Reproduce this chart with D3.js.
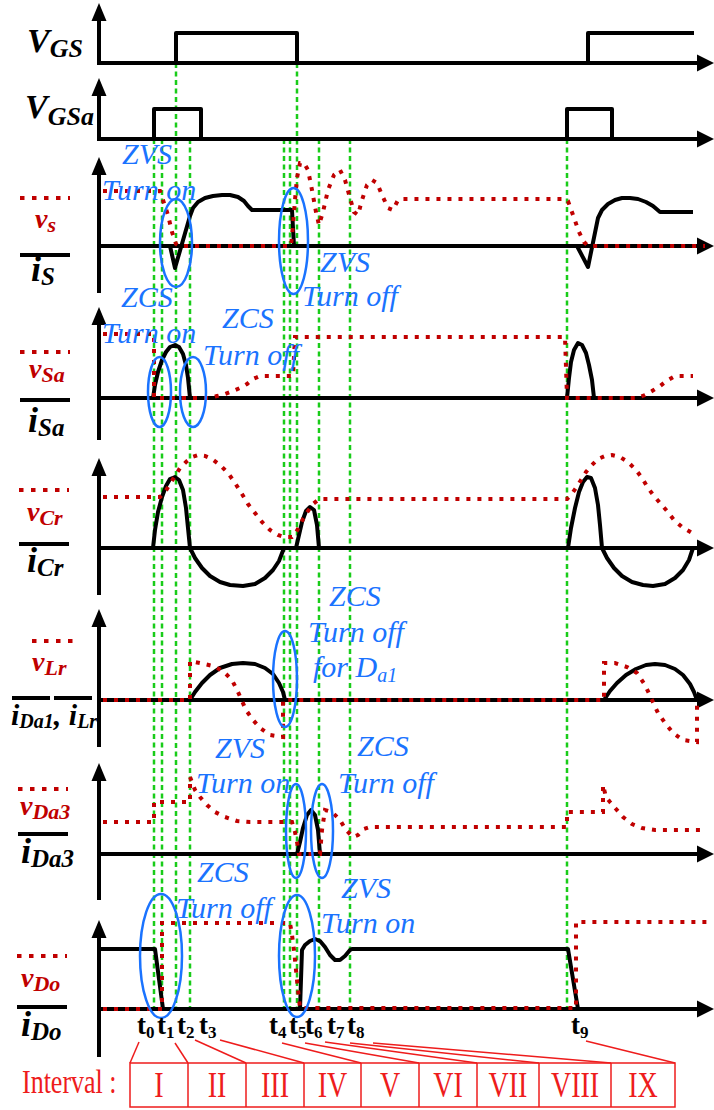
<!DOCTYPE html>
<html><head><meta charset="utf-8">
<script src="https://cdn.jsdelivr.net/npm/d3@7"></script>
<style>body{margin:0;background:#fff}svg{display:block}</style>
</head><body>
<svg id="c" width="714" height="1110"></svg>
<script>
// ---------- DATA (time units, value = height above each panel's zero line) ----------
const tInstants = [55, 63, 77, 91, 185, 191, 198, 220, 251, 468];
const tNames = ["0","1","2","3","4","5","6","7","8","9"];
const intervalNames = ["I","II","III","IV","V","VI","VII","VIII","IX"];

const vGS  = [[0,0],[77,0],[77,30],[198,30],[198,0],[489,0],[489,30],[595,30]];
const vGSa = [[0,0],[55,0],[55,30],[102,30],[102,0],[468,0],[468,30],[513,30],[513,0],[600,0]];

const iS = [[0,0],[71,0],[76,-22],[91,30],[94,38],[99,44],[106,48],[114,50],[123,51],[131,51],[139,49],[145,45],[149,40],[153,36],[193,36],[195,0],
  [478,0],[489,-21],[499,28],[503,36],[509,42],[516,46],[523,48],[531,48],[539,47],[547,44],[554,40],[561,34],[594,34]];
const vS = [[4,55],[61,55],[64,46],[69,31],[73,14],[77,2],[80,0],[192,0],[194,21],[196,46],[198,68],[201,83],[205,83],[209,76],[213,56],[217,34],[220,21],
  [224,34],[229,56],[235,71],[241,76],[246,66],[251,48],[255,34],[259,31],[263,46],[268,61],[273,66],[278,63],[283,51],[289,38],[294,36],[299,46],[303,47],
  [466,47],[469,45],[474,31],[480,14],[485,4],[489,0],[606,0]];

const iSa = [[0,0],[54,0],[56,13],[59,26],[63,38],[67,46],[71,51],[76,53],[80,51],[84,44],[87,33],[89,20],[91,0],
  [468,0],[470,20],[472,36],[475,48],[479,55],[483,53],[487,45],[490,33],[493,18],[495,0],[600,0]];
const vSa = [[4,64],[55,64],[55,0],[111,0],[118,2],[126,4],[134,7],[141,10],[148,14],[154,19],[161,22],[194,22],[196,61],
  [466,61],[468,0],[538,0],[546,3],[553,7],[561,12],[569,18],[576,22],[594,22]];

const iCr = [[0,0],[54,0],[56,18],[59,36],[63,51],[67,62],[71,69],[76,71],[80,68],[84,58],[87,40],[89,20],[91,0],[96,-10],[103,-20],[111,-28],[121,-34],
  [131,-37],[144,-38],[156,-36],[166,-30],[174,-22],[180,-13],[185,0],[197,0],[200,13],[203,26],[207,37],[211,41],[215,38],[218,23],[220,0],
  [469,0],[472,20],[476,40],[480,56],[484,66],[488,71],[492,70],[496,60],[499,43],[501,23],[503,0],[508,-10],[515,-20],[523,-28],[533,-34],[544,-37],
  [554,-38],[566,-36],[576,-30],[584,-22],[590,-12],[594,0],[606,0]];
const vCr = [[4,51],[61,51],[66,56],[71,64],[76,72],[81,80],[87,86],[93,91],[99,93],[106,92],[113,89],[121,83],[129,75],[136,65],[143,54],[149,44],
  [156,35],[163,26],[171,18],[179,13],[185,11],[193,11],[196,14],[200,21],[204,29],[209,37],[214,44],[219,48],[223,49],
  [468,49],[472,53],[477,60],[482,68],[487,76],[493,83],[499,89],[506,92],[513,93],[521,91],[529,86],[537,78],[543,70],[549,60],[555,52],[561,45],
  [568,37],[575,28],[583,21],[593,15]];

const iLr = [[0,0],[91,0],[96,8],[103,17],[111,25],[121,32],[133,36],[144,37],[156,36],[166,32],[174,26],[180,17],[184,8],[186,0],
  [505,0],[511,9],[518,17],[527,25],[537,31],[547,35],[556,36],[566,35],[576,31],[584,25],[591,16],[595,8],[598,0],[606,0]];
const vLr = [[4,0],[91,0],[91,39],[101,37],[114,34],[124,29],[133,20],[139,8],[147,-10],[154,-20],[161,-28],[171,-35],[184,-37],[184,0],
  [505,0],[505,37],[516,37],[528,33],[538,27],[546,15],[553,0],[559,-13],[566,-23],[574,-33],[584,-40],[598,-42],[598,0]];

const iDa3 = [[0,0],[198,0],[201,12],[204,26],[208,39],[212,44],[216,39],[219,24],[221,0],[606,0]];
const vDa3 = [[4,32],[55,32],[55,52],[91,52],[91,77],[96,64],[101,57],[108,49],[116,42],[126,37],[138,33],[151,32],[193,32],[196,22],[198,12],[200,0],
  [221,0],[223,24],[226,44],[233,42],[241,34],[247,24],[254,17],[259,19],[265,25],[271,27],
  [468,27],[468,42],[504,42],[504,69],[507,57],[511,52],[517,45],[524,37],[533,30],[543,26],[556,24],[606,24]];

const iDo = [[0,60],[56,60],[64,0],[201,0],[203,59],[206,64],[211,68],[216,70],[221,68],[226,62],[231,54],[236,49],[241,49],[246,53],[251,59],[253,60],
  [469,60],[479,0],[606,0]];
const vDo = [[4,0],[63,0],[63,86],[191,86],[193,74],[195,59],[197,39],[199,19],[201,1],[477,1],[477,87],[608,87]];

// ---------- LAYOUT ----------
const W = 714, H = 1110;
const svg = d3.select("#c");
const RED = "#c00000", BLUE = "#1a73ff", GREEN = "#19cc19", IRED = "#ee1c1c";
const SERIF = "'Liberation Serif','Times New Roman',serif";

const x = d3.scaleLinear().domain([0, 615]).range([99, 714]);
const panels = [
  {base: 63,  top: 3,   bottom: 63},
  {base: 139, top: 78,  bottom: 139},
  {base: 246, top: 157, bottom: 293},
  {base: 398, top: 307, bottom: 440},
  {base: 548, top: 458, bottom: 595},
  {base: 700, top: 609, bottom: 747},
  {base: 854, top: 763, bottom: 900},
  {base: 1009,top: 920, bottom: 1057}
];
panels.forEach(p => p.y = d3.scaleLinear().domain([0, 100]).range([p.base, p.base - 100]));

const gGreen = svg.append("g"), gAxes = svg.append("g"), gWave = svg.append("g"), gAnno = svg.append("g");

// green instants
const gsEdges = [vGS[1][0], vGS[3][0]];
tInstants.forEach(t => {
  const top = gsEdges.includes(t) ? panels[0].base : panels[1].base;
  gGreen.append("line").attr("x1", x(t)).attr("x2", x(t)).attr("y1", top).attr("y2", panels[7].base)
    .attr("stroke", GREEN).attr("stroke-width", 2.5).attr("stroke-dasharray", "5,3.5");
});

// axes
panels.forEach(p => {
  gAxes.append("line").attr("x1", x(0)).attr("x2", x(0)).attr("y1", p.top + 14).attr("y2", p.bottom)
    .attr("stroke", "#000").attr("stroke-width", 4);
  gAxes.append("path").attr("d", `M${x(0)},${p.top} L${x(0)-7.5},${p.top+18} L${x(0)+7.5},${p.top+18} Z`).attr("fill", "#000");
  gAxes.append("line").attr("x1", x(0) - 2).attr("x2", W - 12).attr("y1", p.base).attr("y2", p.base)
    .attr("stroke", "#000").attr("stroke-width", 4);
  gAxes.append("path").attr("d", `M${W},${p.base} L${W-17},${p.base-8.5} L${W-17},${p.base+8.5} Z`).attr("fill", "#000");
});

function wave(data, p, dotted) {
  const y = panels[p].y;
  const line = d3.line().x(d => x(d[0])).y(d => y(d[1]));
  const path = gWave.append("path").attr("d", line(data)).attr("fill", "none");
  if (dotted) path.attr("stroke", RED).attr("stroke-width", 4).attr("stroke-dasharray", "4,7");
  else path.attr("stroke", "#000").attr("stroke-width", 4).attr("stroke-linejoin", "round");
}
wave(vGS, 0); wave(vGSa, 1);
wave(iS, 2); wave(vS, 2, true);
wave(iSa, 3); wave(vSa, 3, true);
wave(iCr, 4); wave(vCr, 4, true);
wave(iLr, 5); wave(vLr, 5, true);
wave(iDa3, 6); wave(vDa3, 6, true);
wave(iDo, 7); wave(vDo, 7, true);

// ellipses [panel, t, v, rx, ry]
[[2,77,3,16,44],[2,194.5,5,14.5,53],[3,60.5,6,11.5,35],[3,94,6,13,35],[5,186,21,12,48],
 [6,197,23,10,47],[6,223,23,11,47],[7,62,53,21,62],[7,198,53,18,61]].forEach(e => {
  gAnno.append("ellipse").attr("cx", x(e[1])).attr("cy", panels[e[0]].y(e[2])).attr("rx", e[3]).attr("ry", e[4])
    .attr("fill", "none").attr("stroke", BLUE).attr("stroke-width", 2.5);
});

// rich text helper
function rich(g, px, py, parts, o) {
  const t = g.append("text").attr("x", px).attr("y", py).attr("font-family", SERIF)
    .attr("font-style", o.italic === false ? "normal" : "italic").attr("font-weight", o.bold ? "bold" : "normal").attr("fill", o.color);
  let cur = 0;
  parts.forEach(pp => {
    const off = pp[1] ? o.subDy : 0;
    t.append("tspan").attr("dy", off - cur).attr("font-size", pp[1] ? o.subSize : o.size).text(pp[0]);
    cur = off;
  });
  return t;
}

// blue annotations
const blue = [["ZVS",122,164],["Turn on",102,200],["ZVS",320,272],["Turn off",302,306],["ZCS",121,307],["Turn on",102,343],
  ["ZCS",222,328],["Turn off",203,365],["ZCS",329,606],["Turn off",308,642],["ZVS",215,758],["Turn on",196,793],
  ["ZCS",357,756],["Turn off",338,793],["ZCS",197,882],["Turn off",176,918],["ZVS",341,898],["Turn on",321,933]];
blue.forEach(b => rich(gAnno, b[1], b[2], [[b[0], false]], {size: 30, subSize: 20, subDy: 6, color: BLUE}));
rich(gAnno, 313, 677, [["for D", false], ["a1", true]], {size: 30, subSize: 20, subDy: 5, color: BLUE});

// left labels
const lab = svg.append("g");
rich(lab, 27, 52, [["V",false],["GS",true]], {size: 34, subSize: 26, subDy: 5, color: "#000", bold: true});
rich(lab, 25, 118, [["V",false],["GSa",true]], {size: 34, subSize: 26, subDy: 7, color: "#000", bold: true});

function legend(yDot, yLine, x1, x2) {
  lab.append("line").attr("x1", x1).attr("x2", x2).attr("y1", yDot).attr("y2", yDot)
    .attr("stroke", RED).attr("stroke-width", 4).attr("stroke-dasharray", "4.5,7.5");
  if (yLine !== null) lab.append("line").attr("x1", x1).attr("x2", x2).attr("y1", yLine).attr("y2", yLine)
    .attr("stroke", "#000").attr("stroke-width", 4);
}
legend(198, 255, 20, 70);
legend(352, 400, 20, 70);
legend(490, 544, 19, 69);
legend(641, null, 32, 80);
lab.append("line").attr("x1", 12).attr("x2", 50).attr("y1", 698).attr("y2", 698).attr("stroke", "#000").attr("stroke-width", 4);
lab.append("line").attr("x1", 54).attr("x2", 92).attr("y1", 698).attr("y2", 698).attr("stroke", "#000").attr("stroke-width", 4);
legend(789, 834, 18, 68);
legend(956, 1007, 17, 67);

const vo = {size: 28, subSize: 22, subDy: 4, color: RED, bold: true};
const io = {size: 36, subSize: 25, subDy: 4, color: "#000", bold: true};
rich(lab, 35, 228, [["v",false],["s",true]], vo);
rich(lab, 31, 281, [["i",false],["S",true]], io);
rich(lab, 29, 378, [["v",false],["Sa",true]], vo);
rich(lab, 28, 432, [["i",false],["Sa",true]], io);
rich(lab, 27, 521, [["v",false],["Cr",true]], vo);
rich(lab, 27, 572, [["i",false],["Cr",true]], io);
rich(lab, 32, 671, [["v",false],["Lr",true]], vo);
rich(lab, 11, 725, [["i",false],["Da1",true],[", ",false],["i",false],["Lr",true]], {size: 30, subSize: 20, subDy: 3, color: "#000", bold: true});
rich(lab, 20, 815, [["v",false],["Da3",true]], vo);
rich(lab, 21, 863, [["i",false],["Da3",true]], io);
rich(lab, 21, 987, [["v",false],["Do",true]], vo);
rich(lab, 21, 1036, [["i",false],["Do",true]], io);

// t labels
const tLabelX = [137,157,177,199,269,289,305,327,347,571];
tNames.forEach((n, i) => rich(lab, tLabelX[i], 1034, [["t",false],[n,true]], {size: 27, subSize: 17, subDy: 4, color: "#000", bold: true, italic: false}));

// intervals
const boxEdges = [130,188,246,304,361,419,477,539,611,675];
const linkStart = [[139,1042],[175,1043],[195,1040],[220,1040],[282,1043],[305,1043],[325,1042],[350,1043],[373,1043],[586,1041]];
const boxTop = 1063, boxBot = 1107;
const gi = svg.append("g");
boxEdges.forEach((bx, i) => {
  gi.append("line").attr("x1", linkStart[i][0]).attr("y1", linkStart[i][1]).attr("x2", bx).attr("y2", boxTop)
    .attr("stroke", IRED).attr("stroke-width", 1.5);
});
gi.append("rect").attr("x", boxEdges[0]).attr("y", boxTop).attr("width", boxEdges[9] - boxEdges[0]).attr("height", boxBot - boxTop)
  .attr("fill", "none").attr("stroke", IRED).attr("stroke-width", 1.5);
boxEdges.slice(1, 9).forEach(bx => gi.append("line").attr("x1", bx).attr("x2", bx).attr("y1", boxTop).attr("y2", boxBot)
  .attr("stroke", IRED).attr("stroke-width", 1.5));
intervalNames.forEach((n, i) => {
  const cx = (boxEdges[i] + boxEdges[i+1]) / 2;
  gi.append("text").attr("transform", `translate(${cx},1097) scale(1,1.3)`).attr("text-anchor", "middle")
    .attr("font-family", SERIF).attr("font-size", 28).attr("fill", IRED).text(n);
});
gi.append("text").attr("transform", "translate(22,1093) scale(1,1.3)").attr("font-family", SERIF).attr("font-size", 26)
  .attr("fill", IRED).text("Interval :");
</script>
</body></html>
